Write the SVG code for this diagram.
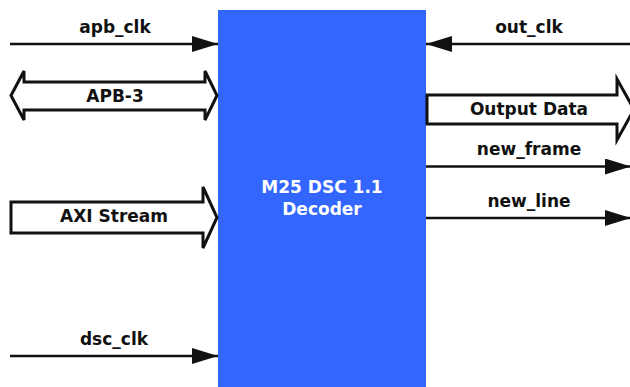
<svg xmlns="http://www.w3.org/2000/svg" width="630" height="387" viewBox="0 0 630 387">
<defs>
<style>
.lbl{font-family:"DejaVu Sans","Liberation Sans",sans-serif;font-weight:bold;font-size:17px;fill:#111;text-anchor:middle}
.ttl{font-family:"DejaVu Sans","Liberation Sans",sans-serif;font-weight:bold;font-size:17px;fill:#fff;text-anchor:middle}
.wire{stroke:#111;stroke-width:2.5;fill:none}
.bus{stroke:#111;stroke-width:3;fill:#fff;stroke-linejoin:miter}
</style>
<marker id="ah" markerUnits="userSpaceOnUse" markerWidth="26" markerHeight="16" refX="26" refY="8" orient="auto">
<path d="M0,0 L26,8 L0,16 Z" fill="#111"/>
</marker>
</defs>
<rect width="630" height="387" fill="#fff"/>
<g id="decoder">
<rect x="218" y="10" width="208" height="377" fill="#3366ff"/>
<text class="ttl" x="322" y="193">M25 DSC 1.1</text>
<text class="ttl" x="322" y="215">Decoder</text>
</g>
<g id="connectors">
<line class="wire" x1="10" y1="44" x2="218" y2="44" marker-end="url(#ah)"/>
<line class="wire" x1="630" y1="44" x2="426" y2="44" marker-end="url(#ah)"/>
<line class="wire" x1="426" y1="166.5" x2="631" y2="166.5" marker-end="url(#ah)"/>
<line class="wire" x1="426" y1="218" x2="631" y2="218" marker-end="url(#ah)"/>
<line class="wire" x1="10" y1="356" x2="218" y2="356" marker-end="url(#ah)"/>
<path class="bus" d="M11,95.5 L24,71 L24,82 L205,82 L205,71 L217,95.5 L205,120 L205,110 L24,110 L24,120 Z"/>
<path class="bus" d="M11,202 L203,202 L203,187 L217,217.5 L203,248 L203,233 L11,233 Z"/>
<path class="bus" d="M427,95 L617,95 L617,79 L634,109.5 L617,140 L617,124 L427,124 Z"/>
</g>
<g id="labels">
<text class="lbl" x="115" y="33">apb_clk</text>
<text class="lbl" x="115" y="102">APB-3</text>
<text class="lbl" x="114" y="222">AXI Stream</text>
<text class="lbl" x="114" y="345">dsc_clk</text>
<text class="lbl" x="529" y="33">out_clk</text>
<text class="lbl" x="529" y="115">Output Data</text>
<text class="lbl" x="529" y="155">new_frame</text>
<text class="lbl" x="529" y="207">new_line</text>
</g>
</svg>
